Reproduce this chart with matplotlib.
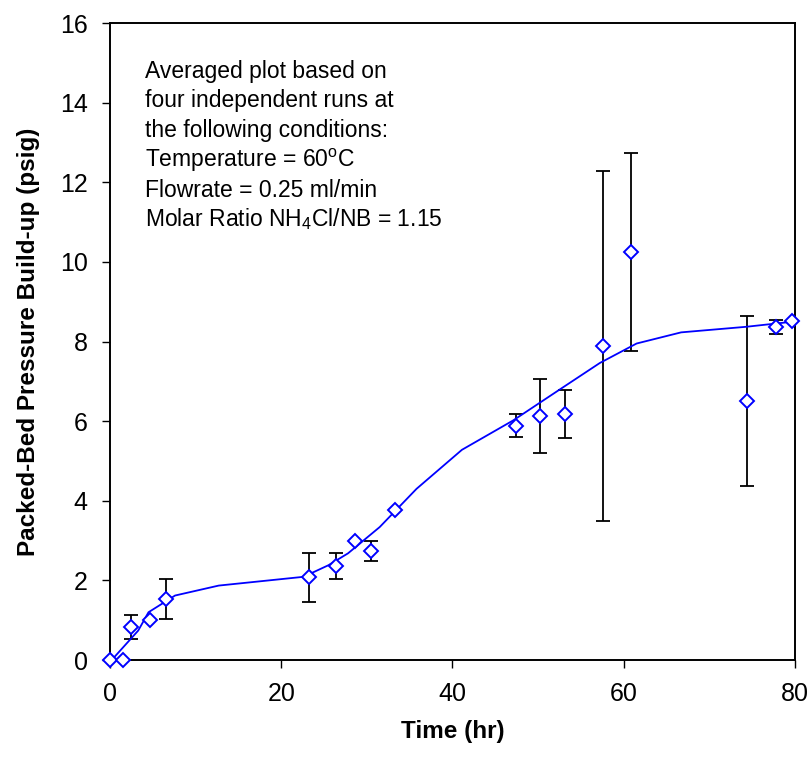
import matplotlib.pyplot as plt

plt.rcParams["font.family"] = ["Liberation Sans", "DejaVu Sans"]
plt.rcParams["mathtext.fontset"] = "custom"
plt.rcParams["mathtext.rm"] = "Liberation Sans"
plt.rcParams["mathtext.it"] = "Liberation Sans:italic"

# averaged data points with error bars
time_hr = [0.0, 1.5, 2.5, 4.65, 6.6, 23.3, 26.4, 28.6, 30.5, 33.3,
           47.4, 50.2, 53.1, 57.6, 60.8, 74.4, 77.8, 79.6]
pressure = [0.0, 0.0, 0.83, 1.0, 1.53, 2.08, 2.37, 2.99, 2.74, 3.77,
            5.88, 6.13, 6.17, 7.89, 10.25, 6.5, 8.37, 8.51]
pressure_err = [0.0, 0.0, 0.3, 0.0, 0.5, 0.61, 0.33, 0.0, 0.26, 0.0,
                0.29, 0.94, 0.6, 4.4, 2.48, 2.13, 0.18, 0.0]

# smoothed trend line
trend_x = [0.2, 3.3, 4.5, 7.6, 12.7, 22.6, 25.5, 27.8, 31.5, 35.8,
           41.1, 47.1, 52.7, 57.2, 61.5, 66.7, 74.3, 79.4]
trend_y = [0.0, 0.74, 1.2, 1.62, 1.87, 2.09, 2.38, 2.68, 3.34, 4.3,
           5.28, 6.02, 6.82, 7.46, 7.95, 8.23, 8.37, 8.49]

note_lines = [
    "Averaged plot based on",
    "four independent runs at",
    "the following conditions:",
    r"Temperature = 60$^{\mathrm{o}}$C",
    "Flowrate = 0.25 ml/min",
    r"Molar Ratio NH$_{4}$Cl/NB = 1.15",
]
note_y = [0.913, 0.868, 0.8206, 0.7744, 0.7273, 0.6818]

fig = plt.figure(figsize=(8.11, 7.57), dpi=100)
ax = fig.add_axes([0.1356, 0.1281, 0.8447, 0.8415])

# error bars only where there is a spread
ex = [t for t, e in zip(time_hr, pressure_err) if e > 0]
ey = [p for p, e in zip(pressure, pressure_err) if e > 0]
ee = [e for e in pressure_err if e > 0]
ax.errorbar(ex, ey, yerr=ee, fmt="none", ecolor="black",
            elinewidth=1.3, capsize=5, capthick=1.3, zorder=2)

ax.plot(trend_x, trend_y, color="#0000ff", lw=1.3, zorder=3)
ax.plot(time_hr, pressure, linestyle="none", marker="D", ms=7.5,
        mfc="white", mec="#0000ff", mew=1.4, zorder=4, clip_on=False)

for txt, yy in zip(note_lines, note_y):
    ax.text(0.051, yy, txt, transform=ax.transAxes, fontsize=16.5,
            ha="left", va="baseline")

ax.set_xlim(0, 80)
ax.set_ylim(0, 16)
ax.set_xticks(range(0, 81, 20))
ax.set_yticks(range(0, 17, 2))
ax.tick_params(direction="out", length=6, width=1, labelsize=18, pad=10)
for sp in ax.spines.values():
    sp.set_linewidth(1.4)

ax.set_xlabel("Time (hr)", fontsize=17.5, fontweight="bold", labelpad=10)
ax.set_ylabel("Packed-Bed Pressure Build-up (psig)", fontsize=17.5,
              fontweight="bold", labelpad=14)

fig.savefig("out.png", dpi=100)
